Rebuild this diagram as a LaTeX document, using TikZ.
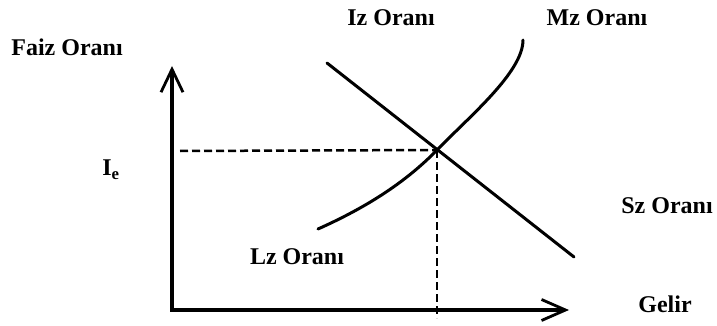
\documentclass[tikz,border=0pt]{standalone}
\usepackage{fontspec}
\setmainfont{Liberation Serif}
\usetikzlibrary{arrows.meta}

\begin{document}
\begin{tikzpicture}[x=1pt,y=-1pt,
  lbl/.style={font=\fontsize{24}{27}\selectfont\bfseries,inner sep=0pt},
  axis/.style={line width=3.2pt,
    {Straight Barb[length=23pt,width=22pt,line width=2.8pt]}-{Straight Barb[length=24pt,width=21pt,line width=2.8pt]}},
  curve/.style={line width=3pt,line cap=round},
  guide/.style={line width=2.5pt,dash pattern=on 8pt off 4pt}]
\useasboundingbox (0,0) rectangle (717,326);
% axes
\coordinate (O) at (172,310);
\coordinate (ytop) at (172,66);
\coordinate (xend) at (569,310);
\draw[axis] (ytop) -- (O) -- (xend);
% equilibrium and guide lines
\coordinate (E) at (437,150);
\coordinate (dl) at (180,151);
\coordinate (db) at (437,318);
\draw[guide] (dl) -- (E);
\draw[guide] (E) -- (db);
% curves
\coordinate (iztop) at (327,63);
\coordinate (izbot) at (574,257);
\draw[curve] (iztop) -- (izbot);
\coordinate (mzbot) at (318,229);
\coordinate (mztop) at (523,40);
\draw[curve] (mzbot) .. controls (365,208) and (405,183) .. (E)
  .. controls (470,116) and (523,72) .. (mztop);
% labels
\node[lbl] (faiz) at (67,47) {Faiz Oranı};
\node[lbl] (ie) at (111,170) {I\textsubscript{e}};
\node[lbl] (iz) at (391,18) {Iz Oranı};
\node[lbl] (mz) at (597,18) {Mz Oranı};
\node[lbl] (sz) at (667,206) {Sz Oranı};
\node[lbl] (lz) at (297,257) {Lz Oranı};
\node[lbl] (gelir) at (665,304) {Gelir};
\end{tikzpicture}
\end{document}
